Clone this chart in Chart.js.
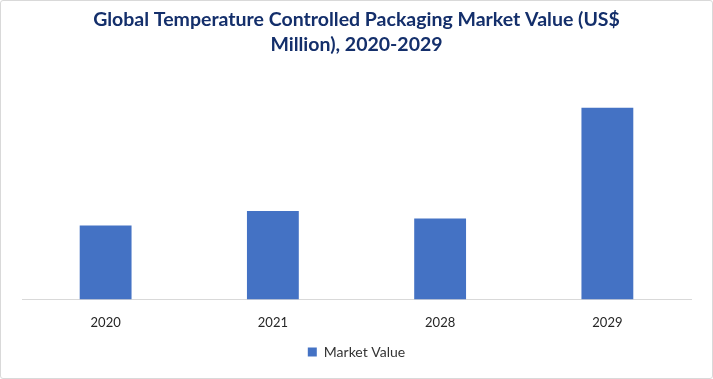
<!DOCTYPE html>
<html>
<head>
<meta charset="utf-8">
<script src="https://cdn.jsdelivr.net/npm/chart.js@4/dist/chart.umd.min.js"></script>
<style>
  html, body { margin: 0; padding: 0; background: #ffffff; }
  #wrap { position: relative; width: 713px; height: 379px; }
  #frame { position: absolute; left: 0; top: 0; width: 713px; height: 379px; box-sizing: border-box; border: 1px solid #d9d9d9; border-radius: 3px; pointer-events: none; }
  canvas { position: absolute; left: 0; top: 0; }
</style>
</head>
<body>
<div id="wrap">
  <canvas id="c" width="713" height="379"></canvas>
  <div id="frame"></div>
</div>
<script>
const categories = ["2020", "2021", "2028", "2029"];
const seriesName = "Market Value";
const marketValue = [11100, 13275, 12150, 28800];
const titleLines = ["Global Temperature Controlled Packaging Market Value (US$", "Million), 2020-2029"];

new Chart(document.getElementById("c"), {
  type: "bar",
  data: {
    labels: categories,
    datasets: [{
      label: seriesName,
      data: marketValue,
      backgroundColor: "#4472C4",
      borderWidth: 0,
      barPercentage: 0.31,
      categoryPercentage: 1.0
    }]
  },
  options: {
    responsive: false,
    animation: false,
    layout: { padding: { left: 22, right: 22, top: 0, bottom: 10 } },
    plugins: {
      title: {
        display: true,
        text: titleLines,
        color: "#142F6B",
        font: { family: "Lato", size: 19.5, weight: "bold", lineHeight: 1.3 },
        padding: { top: 7, bottom: 18 }
      },
      legend: {
        display: true,
        position: "bottom",
        labels: {
          boxWidth: 9, boxHeight: 9,
          color: "#333333",
          font: { family: "Lato", size: 14 },
          padding: 6
        }
      },
      tooltip: { enabled: false }
    },
    scales: {
      x: {
        grid: { display: false },
        border: { display: true, color: "#d9d9d9", width: 1 },
        ticks: { color: "#262626", font: { family: "Lato", size: 13 }, padding: 8 }
      },
      y: {
        display: false,
        min: 0,
        max: 33600
      }
    }
  }
});
</script>
</body>
</html>
